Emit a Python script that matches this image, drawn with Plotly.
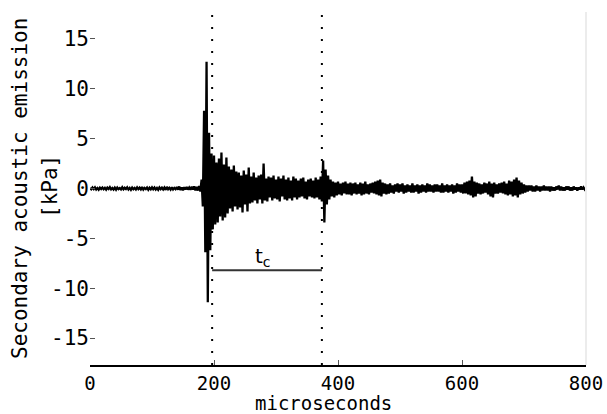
import numpy as np
import plotly.graph_objects as go

# Sampled pressure trace, 2 microsecond spacing from 0 to 800 us (kPa)
sample_step_us = 2.0
pressure_kpa = [
    0.05, -0.08, 0.1, -0.06, 0.12, -0.1, 0.04, -0.12, 0.08, -0.05,
    0.1, -0.07, 0.06, -0.11, 0.09, -0.04, 0.13, -0.09, 0.05, -0.1,
    0.08, -0.12, 0.1, -0.06, 0.04, -0.09, 0.12, -0.08, 0.07, -0.05,
    0.11, -0.1, 0.06, -0.13, 0.09, -0.07, 0.05, -0.1, 0.12, -0.06,
    0.08, -0.09, 0.14, -0.11, 0.06, -0.05, 0.1, -0.12, 0.07, -0.08,
    0.12, -0.07, 0.09, -0.1, 0.05, -0.13, 0.11, -0.06, 0.08, -0.09,
    0.1, -0.14, 0.16, -0.08, 0.07, -0.11, 0.13, -0.1, 0.06, -0.07,
    0.15, -0.12, 0.2, -0.16, 0.1, -0.18, 0.12, -0.09, 0.14, -0.11,
    0.09, -0.13, 0.17, -0.1, 0.22, -0.19, 0.15, -0.2, 0.25, -0.3,
    0.9, -1.8, 7.8, -6.4, 12.7, -11.4, 5.6, -6.2, 3.5, -4.1,
    3.3, -3.6, 2.6, -3.4, 3.0, -2.8, 3.6, -3.2, 2.4, -2.9,
    3.1, -2.5, 2.2, -2.0, 1.9, -2.3, 2.3, -1.8, 1.7, -2.1,
    1.6, -1.9, 1.3, -2.4, 1.8, -1.6, 1.4, -2.3, 2.1, -1.5,
    1.2, -1.4, 1.6, -1.2, 1.1, -1.5, 1.3, -1.1, 1.4, -1.5,
    2.5, -1.2, 1.0, -1.3, 1.2, -0.9, 1.1, -1.2, 1.3, -1.0,
    0.9, -1.1, 1.2, -1.3, 1.0, -0.8, 1.3, -1.1, 0.9, -1.2,
    1.1, -1.0, 0.8, -1.2, 1.2, -0.9, 1.0, -1.1, 0.8, -0.9,
    1.0, -0.8, 1.1, -1.0, 0.7, -1.1, 0.9, -0.8, 1.0, -0.9,
    0.8, -1.0, 1.1, -0.9, 0.9, -1.1, 1.2, -1.3, 2.8, -3.4,
    1.9, -1.6, 1.3, -1.1, 0.9, -0.8, 0.7, -0.9, 0.6, -0.7,
    0.7, -0.6, 0.5, -0.7, 0.6, -0.5, 0.7, -0.6, 0.5, -0.6,
    0.6, -0.7, 0.5, -0.5, 0.6, -0.6, 0.4, -0.5, 0.6, -0.7,
    0.5, -0.6, 0.7, -0.5, 0.4, -0.6, 0.5, -0.4, 0.6, -0.5,
    0.7, -0.6, 0.8, -0.7, 0.9, -0.8, 0.6, -0.5, 0.5, -0.6,
    0.4, -0.5, 0.5, -0.4, 0.3, -0.5, 0.4, -0.3, 0.5, -0.4,
    0.4, -0.3, 0.5, -0.5, 0.3, -0.4, 0.4, -0.3, 0.3, -0.4,
    0.5, -0.4, 0.3, -0.3, 0.4, -0.5, 0.3, -0.4, 0.4, -0.3,
    0.3, -0.4, 0.5, -0.3, 0.4, -0.3, 0.3, -0.4, 0.4, -0.3,
    0.4, -0.3, 0.3, -0.4, 0.5, -0.4, 0.3, -0.3, 0.4, -0.4,
    0.3, -0.3, 0.4, -0.5, 0.3, -0.4, 0.5, -0.3, 0.4, -0.4,
    0.4, -0.5, 0.6, -0.5, 0.7, -0.6, 0.8, -0.7, 1.2, -0.9,
    0.7, -0.8, 0.6, -0.5, 0.5, -0.6, 0.4, -0.5, 0.6, -0.4,
    0.5, -0.6, 0.7, -0.8, 0.5, -0.9, 0.6, -0.5, 0.4, -0.5,
    0.5, -0.4, 0.6, -0.5, 0.7, -0.6, 0.5, -0.7, 0.8, -0.6,
    0.7, -0.8, 0.9, -0.7, 1.1, -0.9, 0.8, -0.6, 0.6, -0.5,
    0.4, -0.4, 0.3, -0.3, 0.3, -0.2, 0.3, -0.3, 0.2, -0.3,
    0.3, -0.2, 0.2, -0.3, 0.2, -0.2, 0.3, -0.2, 0.2, -0.2,
    0.2, -0.3, 0.2, -0.2, 0.1, -0.2, 0.2, -0.1, 0.3, -0.2,
    0.2, -0.2, 0.1, -0.2, 0.2, -0.1, 0.2, -0.2, 0.1, -0.2,
    0.2, -0.1, 0.1, -0.2, 0.1, -0.1, 0.2, -0.1, 0.1, -0.1,
    0.05,
]
time_us = np.arange(len(pressure_kpa)) * sample_step_us

# Start and end of the interval t_c
tc_start_us = 197
tc_end_us = 374
tc_bar_kpa = -8.2
tc_label_kpa = -6.9

x_ticks = [0, 200, 400, 600, 800]
x_tick_text = ["0", "200", "400", "600", "800"]
y_ticks = [-15, -10, -5, 0, 5, 10, 15]
y_tick_text = ["-15", "-10", "-5", "0", "5", "10", "15"]
y_lim = [-17.7, 17.7]
x_lim = [0, 800]

FONT = "DejaVu Sans Mono"
FS = 21

# plot-area geometry (pixels)
W, H = 607, 414
ML, MR, MT, MB = 90, 21, 12, 49
PW, PH = W - ML - MR, H - MT - MB


def px_x(px):
    return (px - ML) / PW


def px_y(py):
    return (H - MB - py) / PH


fig = go.Figure()

fig.add_trace(go.Scatter(
    x=time_us, y=pressure_kpa, mode="lines",
    line=dict(color="black", width=2.3),
    hoverinfo="skip", showlegend=False,
))

for t in (tc_start_us, tc_end_us):
    fig.add_trace(go.Scatter(
        x=[t, t], y=y_lim, mode="lines",
        line=dict(color="black", width=2, dash="2px,10px"),
        hoverinfo="skip", showlegend=False,
    ))

fig.add_trace(go.Scatter(
    x=[tc_start_us, tc_end_us], y=[tc_bar_kpa, tc_bar_kpa], mode="lines",
    line=dict(color="#333333", width=2),
    hoverinfo="skip", showlegend=False,
))

fig.add_annotation(
    x=(tc_start_us + tc_end_us) / 2 - 6, y=tc_label_kpa,
    text="t<sub>c</sub>", showarrow=False,
    font=dict(family="DejaVu Sans", size=20, color="black"),
    xanchor="center", yanchor="middle",
)

# axis titles
fig.add_annotation(
    xref="paper", yref="paper", x=px_x(323), y=px_y(403),
    text="microseconds", showarrow=False, borderpad=0,
    font=dict(family=FONT, size=19, color="black"),
    xanchor="center", yanchor="middle",
)
fig.add_annotation(
    xref="paper", yref="paper", x=px_x(20), y=px_y(189),
    text="Secondary acoustic emission", textangle=-90, showarrow=False,
    font=dict(family=FONT, size=FS, color="black"),
    xanchor="center", yanchor="middle",
)
fig.add_annotation(
    xref="paper", yref="paper", x=px_x(50), y=px_y(187),
    text="[kPa]", textangle=-90, showarrow=False,
    font=dict(family=FONT, size=FS, color="black"),
    xanchor="center", yanchor="middle",
)

# faint right border of the axes box
fig.add_shape(type="line", xref="paper", yref="paper",
              x0=1, x1=1, y0=0, y1=1,
              line=dict(color="#ececec", width=2))

fig.update_layout(
    width=W, height=H,
    margin=dict(l=ML, r=MR, t=MT, b=MB),
    paper_bgcolor="white", plot_bgcolor="white",
    font=dict(family=FONT, size=FS, color="black"),
    xaxis=dict(
        range=x_lim, tickvals=x_ticks, ticktext=x_tick_text,
        ticks="inside", ticklen=5, tickcolor="#555",
        showline=True, linecolor="black", linewidth=2,
        showgrid=False, zeroline=False, automargin=False,
        tickfont=dict(family=FONT, size=19),
    ),
    yaxis=dict(
        range=y_lim, tickvals=y_ticks, ticktext=y_tick_text,
        ticks="inside", ticklen=5, tickcolor="#555",
        showline=False, showgrid=False, zeroline=False, automargin=False,
        tickfont=dict(family=FONT, size=FS),
    ),
)

fig.write_html("out.html")
